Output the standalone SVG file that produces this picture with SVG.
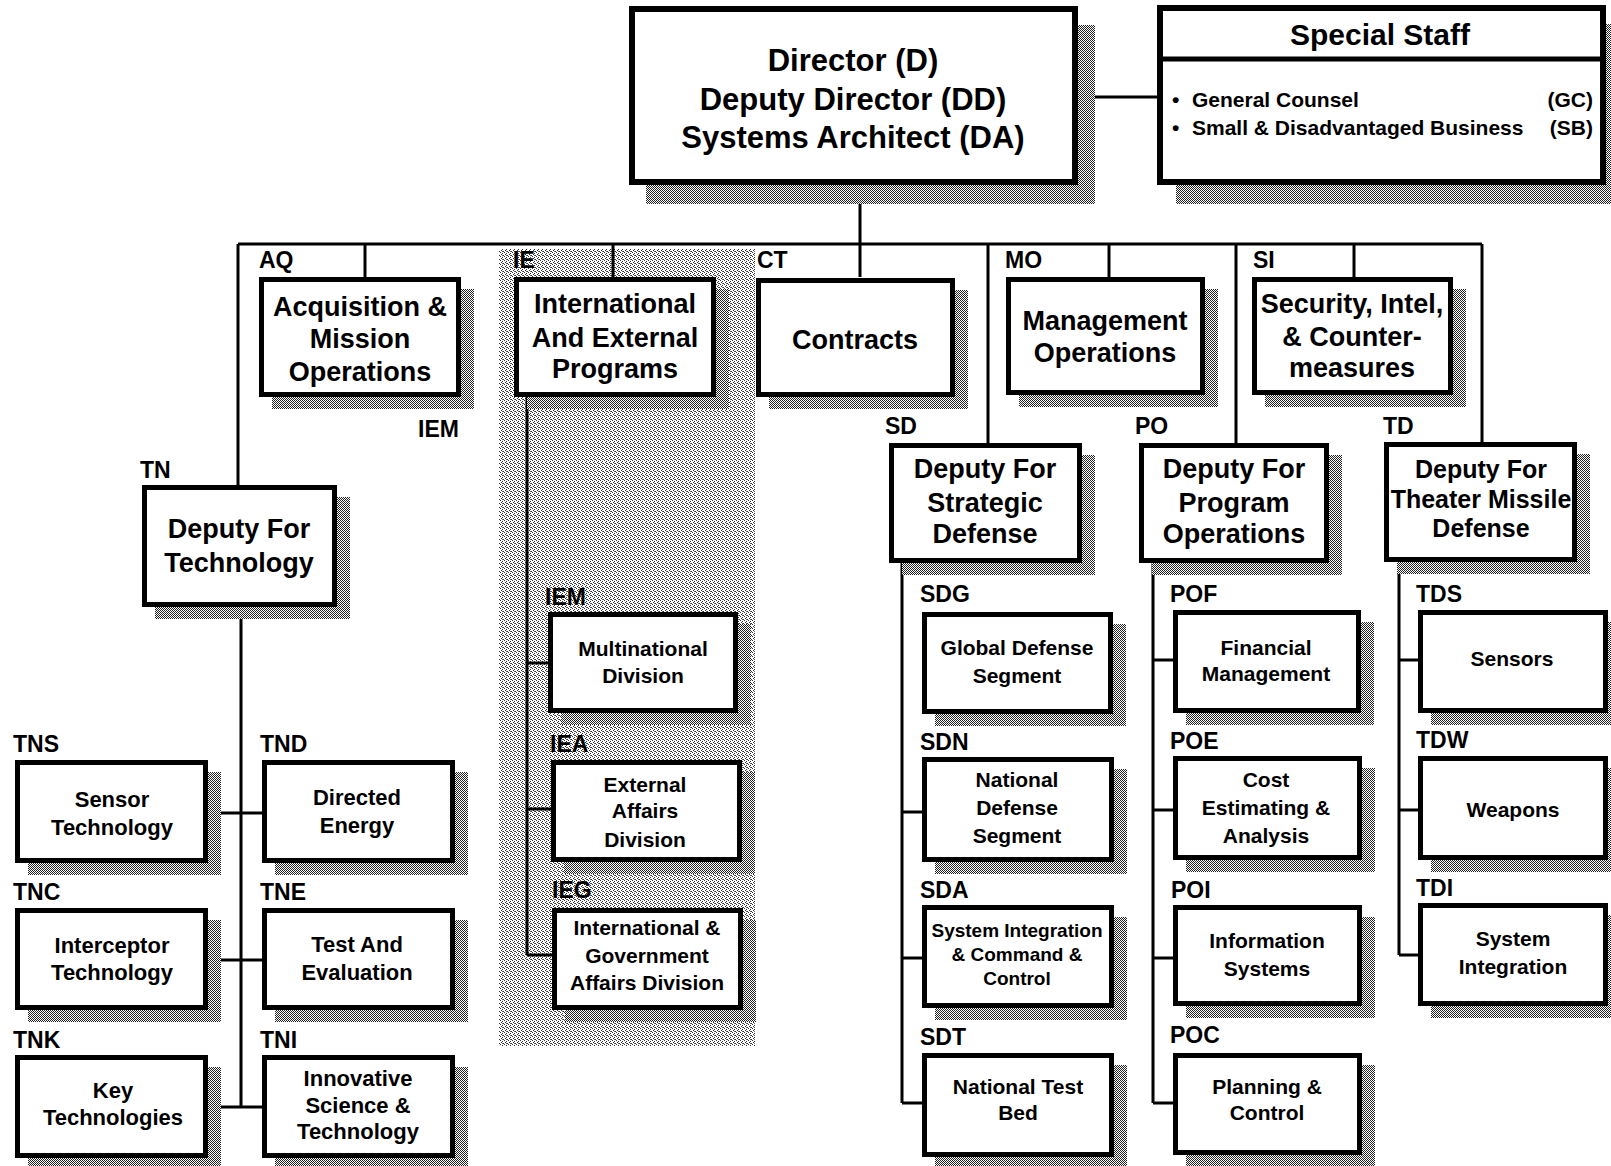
<svg xmlns="http://www.w3.org/2000/svg" width="1611" height="1166" viewBox="0 0 1611 1166">
<defs>
<pattern id="dk" width="2" height="2" patternUnits="userSpaceOnUse">
<rect width="2" height="2" fill="#fff"/>
<rect x="0" y="0" width="1" height="1" fill="#222"/>
<rect x="1" y="1" width="1" height="1" fill="#222"/>
</pattern>
<pattern id="lt" width="4" height="4" patternUnits="userSpaceOnUse">
<rect width="4" height="4" fill="#fff"/>
<rect x="0" y="0" width="1" height="1" fill="#333"/>
<rect x="2" y="1" width="1" height="1" fill="#333"/>
<rect x="1" y="2" width="1" height="1" fill="#333"/>
<rect x="3" y="3" width="1" height="1" fill="#333"/>
<rect x="2" y="3" width="1" height="1" fill="#666"/>
</pattern>
<style>
.box{fill:#fff;stroke:#000;stroke-width:5}
.big{stroke-width:6}
.sh{fill:url(#dk)}
.ln{fill:none;stroke:#000;stroke-width:3}
text{font-family:"Liberation Sans",Arial,Helvetica,sans-serif;font-weight:bold;fill:#000}
.c{text-anchor:middle}
.lb{font-size:23px}
.f31{font-size:31px}
.f30{font-size:30px}
.f27{font-size:27px}
.f25{font-size:25px}
.f22{font-size:22px}
.f21{font-size:21px}
.f19{font-size:19px}
</style>
</defs>
<rect width="1611" height="1166" fill="#fff"/>
<rect id="ie-area" x="499" y="249" width="256" height="797" fill="url(#lt)"/>

<g id="connectors">
<path class="ln" d="M1078 97H1157"/>
<path class="ln" d="M860 185V277"/>
<path class="ln" d="M238 244H1482"/>
<path class="ln" d="M238 244V485"/>
<path class="ln" d="M365 244V277"/>
<path class="ln" d="M613 244V277"/>
<path class="ln" d="M988 244V443"/>
<path class="ln" d="M1109 244V277"/>
<path class="ln" d="M1236 244V443"/>
<path class="ln" d="M1354 244V277"/>
<path class="ln" d="M1482 244V442"/>
<path class="ln" d="M241 607V1107M208 813H262M208 960H262M208 1107H262"/>
<path class="ln" d="M527 397V955M527 663H548M527 809H551M527 955H552"/>
<path class="ln" d="M902 563V1103M902 812H922M902 958H922M902 1103H922"/>
<path class="ln" d="M1153 563V1103M1153 660H1173M1153 810H1173M1153 958H1173M1153 1103H1173"/>
<path class="ln" d="M1399 562V955M1399 660H1418M1399 810H1418M1399 955H1418"/>
</g>

<g id="node-D">
<rect class="sh" x="646" y="25" width="449" height="179"/>
<rect class="box big" x="632" y="9" width="443" height="173"/>
<text class="c f31" x="853" y="71">Director (D)</text>
<text class="c f31" x="853" y="110">Deputy Director (DD)</text>
<text class="c f31" x="853" y="148">Systems Architect (DA)</text>
</g>

<g id="node-SpecialStaff">
<rect class="sh" x="1176" y="24" width="449" height="180"/>
<rect class="box big" x="1160" y="8" width="443" height="174"/>
<path d="M1157 59H1606" stroke="#000" stroke-width="5"/>
<text class="c f30" x="1380" y="45">Special Staff</text>
<text class="f21" x="1172" y="107">•</text>
<text class="f21" x="1192" y="107">General Counsel</text>
<text class="f21" x="1593" y="107" text-anchor="end">(GC)</text>
<text class="f21" x="1172" y="135">•</text>
<text class="f21" x="1192" y="135">Small &amp; Disadvantaged Business</text>
<text class="f21" x="1593" y="135" text-anchor="end">(SB)</text>
</g>

<g id="node-AQ">
<rect class="sh" x="272" y="289" width="202" height="120"/>
<rect class="box" x="261.5" y="279.5" width="197" height="115"/>
<text class="lb" x="259" y="268">AQ</text>
<text class="c f27" x="360" y="316">Acquisition &amp;</text>
<text class="c f27" x="360" y="348">Mission</text>
<text class="c f27" x="360" y="381">Operations</text>
</g>
<text id="label-IEM-stray" class="lb" x="418" y="437">IEM</text>

<g id="node-IE">
<rect class="sh" x="527" y="289" width="202" height="120"/>
<rect class="box" x="516.5" y="279.5" width="197" height="115"/>
<text class="lb" x="513" y="268">IE</text>
<text class="c f27" x="615" y="313">International</text>
<text class="c f27" x="615" y="347">And External</text>
<text class="c f27" x="615" y="378">Programs</text>
</g>

<g id="node-CT">
<rect class="sh" x="769" y="290" width="199" height="119"/>
<rect class="box" x="758.5" y="280.5" width="194" height="114"/>
<text class="lb" x="757" y="268">CT</text>
<text class="c f27" x="855" y="349">Contracts</text>
</g>

<g id="node-MO">
<rect class="sh" x="1019" y="289" width="199" height="118"/>
<rect class="box" x="1008.5" y="279.5" width="194" height="113"/>
<text class="lb" x="1005" y="268">MO</text>
<text class="c f27" x="1105" y="330">Management</text>
<text class="c f27" x="1105" y="362">Operations</text>
</g>

<g id="node-SI">
<rect class="sh" x="1265" y="289" width="201" height="118"/>
<rect class="box" x="1254.5" y="279.5" width="196" height="113"/>
<text class="lb" x="1253" y="268">SI</text>
<text class="c f27" x="1352" y="313">Security, Intel,</text>
<text class="c f27" x="1352" y="346">&amp; Counter-</text>
<text class="c f27" x="1352" y="377">measures</text>
</g>

<g id="node-TN">
<rect class="sh" x="155" y="497" width="195" height="122"/>
<rect class="box" x="144.5" y="487.5" width="190" height="117"/>
<text class="lb" x="140" y="478">TN</text>
<text class="c f27" x="239" y="538">Deputy For</text>
<text class="c f27" x="239" y="572">Technology</text>
</g>

<g id="node-SD">
<rect class="sh" x="902" y="455" width="193" height="120"/>
<rect class="box" x="891.5" y="445.5" width="188" height="115"/>
<text class="lb" x="885" y="434">SD</text>
<text class="c f27" x="985" y="478">Deputy For</text>
<text class="c f27" x="985" y="512">Strategic</text>
<text class="c f27" x="985" y="543">Defense</text>
</g>

<g id="node-PO">
<rect class="sh" x="1152" y="455" width="190" height="120"/>
<rect class="box" x="1141.5" y="445.5" width="185" height="115"/>
<text class="lb" x="1135" y="434">PO</text>
<text class="c f27" x="1234" y="478">Deputy For</text>
<text class="c f27" x="1234" y="512">Program</text>
<text class="c f27" x="1234" y="543">Operations</text>
</g>

<g id="node-TD">
<rect class="sh" x="1397" y="454" width="193" height="120"/>
<rect class="box" x="1386.5" y="444.5" width="188" height="115"/>
<text class="lb" x="1383" y="434">TD</text>
<text class="c f25" x="1481" y="478">Deputy For</text>
<text class="c f25" x="1481" y="508">Theater Missile</text>
<text class="c f25" x="1481" y="537">Defense</text>
</g>

<g id="node-TNS">
<rect class="sh" x="28" y="772" width="193" height="103"/>
<rect class="box" x="17.5" y="762.5" width="188" height="98"/>
<text class="lb" x="13" y="752">TNS</text>
<text class="c f22" x="112" y="807">Sensor</text>
<text class="c f22" x="112" y="835">Technology</text>
</g>
<g id="node-TND">
<rect class="sh" x="275" y="772" width="193" height="103"/>
<rect class="box" x="264.5" y="762.5" width="188" height="98"/>
<text class="lb" x="260" y="752">TND</text>
<text class="c f22" x="357" y="805">Directed</text>
<text class="c f22" x="357" y="833">Energy</text>
</g>
<g id="node-TNC">
<rect class="sh" x="28" y="920" width="193" height="102"/>
<rect class="box" x="17.5" y="910.5" width="188" height="97"/>
<text class="lb" x="13" y="900">TNC</text>
<text class="c f22" x="112" y="953">Interceptor</text>
<text class="c f22" x="112" y="980">Technology</text>
</g>
<g id="node-TNE">
<rect class="sh" x="275" y="920" width="193" height="102"/>
<rect class="box" x="264.5" y="910.5" width="188" height="97"/>
<text class="lb" x="260" y="900">TNE</text>
<text class="c f22" x="357" y="952">Test And</text>
<text class="c f22" x="357" y="980">Evaluation</text>
</g>
<g id="node-TNK">
<rect class="sh" x="28" y="1067" width="193" height="103"/>
<rect class="box" x="17.5" y="1057.5" width="188" height="98"/>
<text class="lb" x="13" y="1048">TNK</text>
<text class="c f22" x="113" y="1098">Key</text>
<text class="c f22" x="113" y="1125">Technologies</text>
</g>
<g id="node-TNI">
<rect class="sh" x="275" y="1067" width="193" height="103"/>
<rect class="box" x="264.5" y="1057.5" width="188" height="98"/>
<text class="lb" x="260" y="1048">TNI</text>
<text class="c f22" x="358" y="1086">Innovative</text>
<text class="c f22" x="358" y="1113">Science &amp;</text>
<text class="c f22" x="358" y="1139">Technology</text>
</g>

<g id="node-IEM">
<rect class="sh" x="561" y="624" width="190" height="101"/>
<rect class="box" x="550.5" y="614.5" width="185" height="96"/>
<text class="lb" x="545" y="605">IEM</text>
<text class="c f21" x="643" y="656">Multinational</text>
<text class="c f21" x="643" y="683">Division</text>
</g>
<g id="node-IEA">
<rect class="sh" x="564" y="772" width="191" height="102"/>
<rect class="box" x="553.5" y="762.5" width="186" height="97"/>
<text class="lb" x="550" y="752">IEA</text>
<text class="c f21" x="645" y="792">External</text>
<text class="c f21" x="645" y="818">Affairs</text>
<text class="c f21" x="645" y="847">Division</text>
</g>
<g id="node-IEG">
<rect class="sh" x="565" y="920" width="191" height="102"/>
<rect class="box" x="554.5" y="910.5" width="186" height="97"/>
<text class="lb" x="552" y="898">IEG</text>
<text class="c f21" x="647" y="935">International &amp;</text>
<text class="c f21" x="647" y="963">Government</text>
<text class="c f21" x="647" y="990">Affairs Division</text>
</g>

<g id="node-SDG">
<rect class="sh" x="935" y="624" width="191" height="102"/>
<rect class="box" x="924.5" y="614.5" width="186" height="97"/>
<text class="lb" x="920" y="602">SDG</text>
<text class="c f21" x="1017" y="655">Global Defense</text>
<text class="c f21" x="1017" y="683">Segment</text>
</g>
<g id="node-SDN">
<rect class="sh" x="935" y="769" width="192" height="105"/>
<rect class="box" x="924.5" y="759.5" width="187" height="100"/>
<text class="lb" x="920" y="750">SDN</text>
<text class="c f21" x="1017" y="787">National</text>
<text class="c f21" x="1017" y="815">Defense</text>
<text class="c f21" x="1017" y="843">Segment</text>
</g>
<g id="node-SDA">
<rect class="sh" x="935" y="917" width="192" height="103"/>
<rect class="box" x="924.5" y="907.5" width="187" height="98"/>
<text class="lb" x="920" y="898">SDA</text>
<text class="c f19" x="1017" y="937">System Integration</text>
<text class="c f19" x="1017" y="961">&amp; Command &amp;</text>
<text class="c f19" x="1017" y="985">Control</text>
</g>
<g id="node-SDT">
<rect class="sh" x="935" y="1065" width="192" height="104"/>
<rect class="box" x="924.5" y="1055.5" width="187" height="99"/>
<text class="lb" x="920" y="1045">SDT</text>
<text class="c f21" x="1018" y="1094">National Test</text>
<text class="c f21" x="1018" y="1120">Bed</text>
</g>

<g id="node-POF">
<rect class="sh" x="1186" y="622" width="188" height="103"/>
<rect class="box" x="1175.5" y="612.5" width="183" height="98"/>
<text class="lb" x="1170" y="602">POF</text>
<text class="c f21" x="1266" y="655">Financial</text>
<text class="c f21" x="1266" y="681">Management</text>
</g>
<g id="node-POE">
<rect class="sh" x="1186" y="768" width="189" height="104"/>
<rect class="box" x="1175.5" y="758.5" width="184" height="99"/>
<text class="lb" x="1170" y="749">POE</text>
<text class="c f21" x="1266" y="787">Cost</text>
<text class="c f21" x="1266" y="815">Estimating &amp;</text>
<text class="c f21" x="1266" y="843">Analysis</text>
</g>
<g id="node-POI">
<rect class="sh" x="1186" y="917" width="189" height="101"/>
<rect class="box" x="1175.5" y="907.5" width="184" height="96"/>
<text class="lb" x="1171" y="898">POI</text>
<text class="c f21" x="1267" y="948">Information</text>
<text class="c f21" x="1267" y="976">Systems</text>
</g>
<g id="node-POC">
<rect class="sh" x="1186" y="1065" width="189" height="102"/>
<rect class="box" x="1175.5" y="1055.5" width="184" height="97"/>
<text class="lb" x="1170" y="1043">POC</text>
<text class="c f21" x="1267" y="1094">Planning &amp;</text>
<text class="c f21" x="1267" y="1120">Control</text>
</g>

<g id="node-TDS">
<rect class="sh" x="1431" y="622" width="190" height="103"/>
<rect class="box" x="1420.5" y="612.5" width="185" height="98"/>
<text class="lb" x="1416" y="602">TDS</text>
<text class="c f21" x="1512" y="666">Sensors</text>
</g>
<g id="node-TDW">
<rect class="sh" x="1431" y="768" width="190" height="104"/>
<rect class="box" x="1420.5" y="758.5" width="185" height="99"/>
<text class="lb" x="1416" y="748">TDW</text>
<text class="c f21" x="1513" y="817">Weapons</text>
</g>
<g id="node-TDI">
<rect class="sh" x="1431" y="915" width="190" height="103"/>
<rect class="box" x="1420.5" y="905.5" width="185" height="98"/>
<text class="lb" x="1416" y="896">TDI</text>
<text class="c f21" x="1513" y="946">System</text>
<text class="c f21" x="1513" y="974">Integration</text>
</g>
</svg>
